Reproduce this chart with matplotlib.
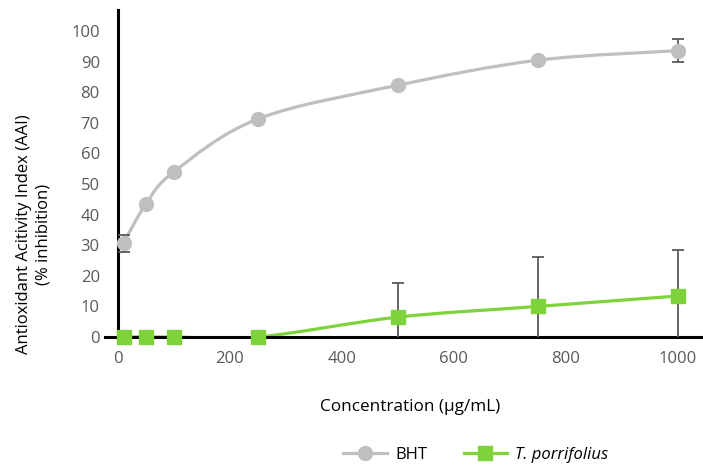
import numpy as np
import matplotlib
matplotlib.use('Agg')
import matplotlib.pyplot as plt
from matplotlib.path import Path
from matplotlib.patches import PathPatch
from matplotlib.lines import Line2D

plt.rcParams['font.family'] = ['Open Sans', 'DejaVu Sans']

# data
conc = [10, 50, 100, 250, 500, 750, 1000]
bht = [30.7, 43.5, 54.0, 71.3, 82.3, 90.5, 93.6]
bht_err = [2.8, 0, 0, 0, 0, 0, 3.7]
tp = [0, 0, 0, 0, 6.5, 10.0, 13.4]
tp_err = [0, 0, 0, 0, 11.1, 16.0, 15.0]

grey = '#BFBFBF'
green = '#7ED23A'
err_col = '#595959'
tick_col = '#595959'

fig = plt.figure(figsize=(7.03, 4.68), dpi=100)
ax = fig.add_axes([0.1494, 0.2799, 0.8506, 0.6987])
ax.set_xlim(-23, 1045)
ax.set_ylim(0, 106.9)


def smooth_path(x, y):
    # Excel-like smoothed line: Catmull-Rom as cubic bezier, computed in pixel space
    pts = ax.transData.transform(np.column_stack([x, y]))
    n = len(pts)
    verts = [pts[0]]
    codes = [Path.MOVETO]
    for i in range(n - 1):
        p0 = pts[i - 1] if i > 0 else pts[i]
        p1 = pts[i]
        p2 = pts[i + 1]
        p3 = pts[i + 2] if i + 2 < n else pts[i + 1]
        c1 = p1 + (p2 - p0) / 6.0
        c2 = p2 - (p3 - p1) / 6.0
        verts += [c1, c2, p2]
        codes += [Path.CURVE4] * 3
    verts = ax.transData.inverted().transform(np.array(verts))
    return Path(verts, codes)


for y, col in [(bht, grey), (tp, green)]:
    patch = PathPatch(smooth_path(conc, y), facecolor='none', edgecolor=col, lw=2.3)
    ax.add_patch(patch)

# error bars
ax.errorbar(conc, bht, yerr=bht_err, fmt='none', ecolor=err_col, elinewidth=1.3,
            capsize=4.5, capthick=1.3, zorder=3)
ax.errorbar(conc, tp, yerr=tp_err, fmt='none', ecolor=err_col, elinewidth=1.3,
            capsize=4.5, capthick=1.3, zorder=3)

ax.plot(conc, bht, 'o', color=grey, ms=10, ls='none', zorder=4, clip_on=False)
ax.plot(conc, tp, 's', color=green, ms=10, ls='none', zorder=5, clip_on=False)

# axes style
for s in ['top', 'right']:
    ax.spines[s].set_visible(False)
ax.spines['left'].set_position(('data', 0))
ax.spines['left'].set_linewidth(2.2)
ax.spines['bottom'].set_linewidth(2.2)
ax.spines['left'].set_zorder(2)
ax.spines['bottom'].set_zorder(2)

ax.set_xticks([0, 200, 400, 600, 800, 1000])
ax.set_yticks(np.arange(0, 101, 10))
ax.tick_params(axis='x', length=0, pad=10, labelsize=12, labelcolor=tick_col)
ax.tick_params(axis='y', length=0, pad=13, labelsize=12, labelcolor=tick_col)

fig.text(0.048, 0.5, 'Antioxidant Acitivity Index (AAI)\n(% inhibition)', rotation=90,
         ha='center', va='center', fontsize=12, linespacing=1.35)
fig.text(0.583, 0.13, 'Concentration (\u03bcg/mL)', ha='center', va='center', fontsize=12.3)

handles = [Line2D([], [], color=grey, lw=2.3, marker='o', ms=10),
           Line2D([], [], color=green, lw=2.3, marker='s', ms=10)]
leg = fig.legend(handles, ['BHT', 'T. porrifolius'], loc='center', ncol=2,
                 bbox_to_anchor=(0.677, 0.028), frameon=False, fontsize=12,
                 handlelength=2.6, handletextpad=0.5, columnspacing=2.2)
leg.get_texts()[1].set_style('italic')

fig.savefig('out.png', dpi=100)
